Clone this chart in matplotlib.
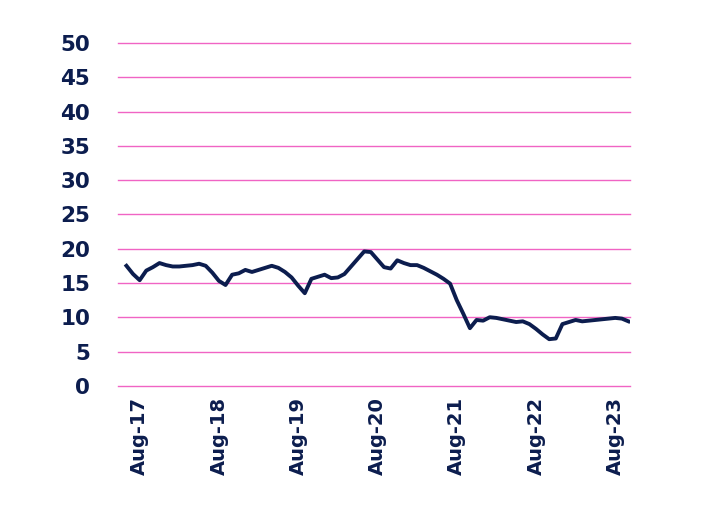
import matplotlib.pyplot as plt
import numpy as np

# monthly values, Jun-17 .. Oct-23
values = [
    17.5, 16.3, 15.4, 16.8, 17.3, 17.9, 17.6,               # Jun-17 .. Dec-17
    17.4, 17.4, 17.5, 17.6, 17.8, 17.5, 16.5, 15.3, 14.7, 16.2, 16.4, 16.9,  # 2018
    16.6, 16.9, 17.2, 17.5, 17.2, 16.6, 15.8, 14.6, 13.5, 15.6, 15.9, 16.2,  # 2019
    15.7, 15.8, 16.3, 17.4, 18.5, 19.6, 19.5, 18.4, 17.3, 17.1, 18.3, 17.9,  # 2020
    17.6, 17.6, 17.2, 16.7, 16.2, 15.6, 14.9, 12.5, 10.5, 8.4, 9.6, 9.5,     # 2021
    10.0, 9.9, 9.7, 9.5, 9.3, 9.4, 9.0, 8.3, 7.5, 6.8, 6.9, 9.0,             # 2022
    9.3, 9.6, 9.4, 9.5, 9.6, 9.7, 9.8, 9.9, 9.8, 9.4,                        # 2023
]
tick_labels = ["Aug-17", "Aug-18", "Aug-19", "Aug-20", "Aug-21", "Aug-22", "Aug-23"]
y_ticks = [0, 5, 10, 15, 20, 25, 30, 35, 40, 45, 50]

navy = "#0c1d4e"
pink = "#f064c4"

# months counted from Aug-17
x = np.arange(len(values)) - 2

fig = plt.figure(figsize=(7.1, 5.11), dpi=100)
ax = fig.add_axes([0.166, 0.245, 0.721, 0.671])

for y in y_ticks:
    ax.axhline(y, color=pink, linewidth=1.0, zorder=1, clip_on=False)

ax.plot(x, values, color=navy, linewidth=2.8, solid_joinstyle="round", zorder=3)

ax.set_ylim(0, 50)
ax.set_xlim(-3.3, 74.2)
ax.set_yticks(y_ticks)
ax.set_xticks([12 * i for i in range(len(tick_labels))])
ax.set_xticklabels(tick_labels, rotation=90)

for s in ax.spines.values():
    s.set_visible(False)
ax.tick_params(axis="both", length=0, colors=navy)
ax.tick_params(axis="y", pad=20, labelsize=15.5)
ax.tick_params(axis="x", pad=8, labelsize=14)
for lab in ax.get_xticklabels() + ax.get_yticklabels():
    lab.set_fontweight("semibold")

fig.savefig("out.png", dpi=100)
